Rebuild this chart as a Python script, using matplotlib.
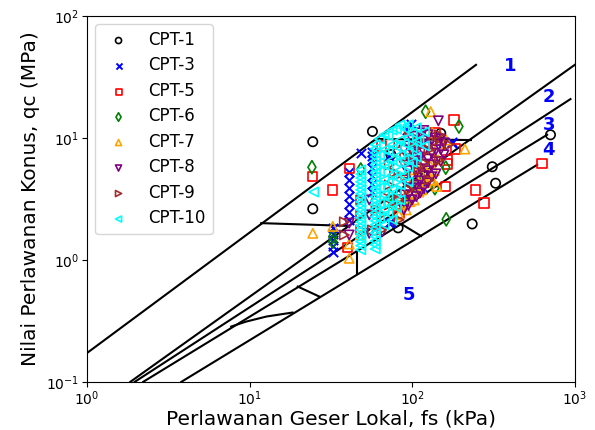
import matplotlib
matplotlib.use("Agg")
import matplotlib.pyplot as plt

# ---- CPT data: fs (kPa), qc (MPa) ----
cpt1_fs = [24.5, 24.5, 57, 74, 82, 150, 234, 311, 326, 709]
cpt1_qc = [9.3, 2.62, 11.3, 7.3, 1.83, 10.9, 1.97, 5.8, 4.25, 10.6]

cpt3_fs = [32.5, 32.5, 32.5, 32.5, 32.5,
           41, 41, 41, 41, 41, 41, 41,
           57, 57, 57, 57, 57, 57,
           48.3, 57, 72, 98, 93, 177, 153, 116, 72, 74, 103, 113, 177]
cpt3_qc = [1.83, 1.63, 1.46, 1.30, 1.16,
           5.27, 4.53, 3.89, 3.35, 2.88, 2.47, 2.13,
           7.68, 6.6, 5.68, 4.88, 4.20, 3.61,
           7.5, 7.05, 7.05, 13.0, 11.6, 9.0, 8.8, 3.87, 2.0, 2.06, 4.0, 3.87, 9.3]

cpt5_fs = [24.5, 32.5, 41, 40, 64.8, 85, 85, 83, 138, 181, 185, 165, 165, 161,
           245, 277, 630]
cpt5_qc = [4.82, 3.75, 5.64, 1.27, 8.6, 3.1, 2.75, 2.4, 11.1, 14.0, 8.1, 6.6, 6.1, 4.0,
           3.75, 2.92, 6.13]

cpt6_fs = [24.2, 48.3, 121, 194, 161, 138, 162, 32.5, 32.5, 74, 76, 90, 100, 110]
cpt6_qc = [5.75, 5.5, 16.4, 12.4, 5.7, 3.87, 2.15, 1.41, 1.55, 3.3, 2.9, 3.0, 3.5, 4.3]

cpt7_fs = [24.5, 32.5, 41, 130, 211,
           83, 83, 92, 92, 92, 103, 103, 103, 115, 115, 115,
           129, 129, 129, 145, 145, 162, 133, 133, 142,
           97, 110, 122, 137, 41, 48]
cpt7_qc = [1.65, 1.88, 1.03, 16.4, 8.1,
           2.82, 2.34, 4.70, 3.41, 2.57, 5.47, 4.12, 3.10, 6.6, 4.97, 3.75,
           7.97, 6.01, 4.53, 8.8, 6.6, 9.6, 11.0, 4.5, 4.0,
           3.0, 3.6, 4.3, 5.4, 1.35, 1.6]

cpt8_fs = [89, 89, 89, 89, 89,
           100, 100, 100, 100, 100, 100,
           112, 112, 112, 112, 112, 112,
           125, 125, 125, 125, 125,
           140, 140, 140, 140,
           157, 157, 54.5, 54.5, 54.5, 65.6, 145, 41, 41,
           95, 95, 95, 95, 95, 95,
           106, 106, 106, 106, 106, 106,
           118, 118, 118, 118, 118, 118,
           132, 132, 132, 132,
           150, 150, 150]
cpt8_qc = [7.97, 6.01, 4.53, 3.41, 2.57,
           9.6, 7.68, 6.12, 4.88, 3.89, 3.10,
           11.0, 8.8, 6.98, 5.57, 4.44, 3.54,
           10.6, 8.44, 6.73, 5.37, 4.28,
           10.0, 7.97, 6.36, 5.07,
           9.1, 7.26, 3.10, 2.34, 1.65, 1.70, 13.8, 2.0, 1.6,
           8.6, 6.8, 5.4, 4.3, 3.4, 2.8,
           10.3, 8.2, 6.5, 5.2, 4.1, 3.3,
           11.5, 9.5, 7.6, 6.1, 4.9, 3.9,
           9.5, 7.5, 6.0, 4.8,
           9.8, 8.0, 6.4]

cpt9_fs = [38.3, 38.3, 48.3, 48.3, 48.3, 57, 64.8, 64.8, 72.3, 72.3, 72.3,
           83, 83, 83, 83, 96, 96, 96, 110, 110, 127, 127, 147, 147, 169,
           60, 68, 78, 90, 104, 120, 136]
cpt9_qc = [2.05, 1.60, 3.10, 2.34, 1.76, 1.76, 1.76, 2.34, 2.82, 4.12, 6.01,
           8.8, 4.97, 3.10, 2.13, 11.6, 6.6, 3.75, 9.6, 5.47, 7.97, 4.53, 10.6, 6.6, 8.8,
           2.6, 3.3, 5.2, 7.0, 8.2, 6.2, 9.2]

cpt10_fs = [48.3] * 21 + [59.3] * 27 + [63] * 6 + [67.3] * 7 + [71] * 6 \
    + [75.4] * 7 + [80] * 6 + [84.4] * 6 + [89] * 4 + [94.5] * 5 + [100] * 3 \
    + [106] * 3 + [119] * 2 + [24.8, 110]
cpt10_qc = [5.47, 5.05, 4.70, 4.36, 4.04, 3.75, 3.48, 3.22, 2.99, 2.77, 2.57,
            2.39, 2.21, 2.05, 1.90, 1.76, 1.63, 1.52, 1.41, 1.31, 1.21,
            8.8, 8.15, 7.53, 7.0, 6.48, 6.0, 5.57, 5.17, 4.79, 4.45, 4.12, 3.82,
            3.54, 3.29, 3.05, 2.83, 2.62, 2.43, 2.25, 2.09, 1.94, 1.80, 1.66, 1.55,
            1.43, 1.33, 1.23,
            9.8, 7.2, 5.3, 3.9, 2.9, 2.2,
            10.6, 7.97, 6.01, 4.53, 3.41, 2.57, 1.94,
            10.5, 7.8, 5.8, 4.3, 3.2, 2.4,
            11.6, 8.8, 6.6, 4.97, 3.75, 2.82, 2.13,
            11.8, 8.5, 6.3, 4.7, 3.6, 2.7,
            12.8, 9.6, 7.26, 5.47, 4.12, 3.10,
            12.0, 9.0, 6.6, 4.9,
            12.8, 10.0, 7.68, 5.78, 4.36,
            11.0, 8.3, 6.3,
            12.1, 9.27, 6.98,
            11.2, 8.6,
            3.6, 9.6]

series = [
    ("CPT-1", cpt1_fs, cpt1_qc, "o", "black"),
    ("CPT-3", cpt3_fs, cpt3_qc, "x", "blue"),
    ("CPT-5", cpt5_fs, cpt5_qc, "s", "red"),
    ("CPT-6", cpt6_fs, cpt6_qc, "d", "green"),
    ("CPT-7", cpt7_fs, cpt7_qc, "^", "orange"),
    ("CPT-8", cpt8_fs, cpt8_qc, "v", "purple"),
    ("CPT-9", cpt9_fs, cpt9_qc, ">", "brown"),
    ("CPT-10", cpt10_fs, cpt10_qc, "<", "cyan"),
]

# ---- zone boundaries (fs, qc) ----
boundary_lines = [
    ([1, 247], [0.172, 39.7]),
    ([1.85, 1000], [0.1, 39.7]),
    ([1.97, 941], [0.1, 20.8]),
    ([2.22, 676], [0.1, 10.6]),
    ([3.81, 587], [0.1, 6.01]),
    ([60, 230], [9.8, 9.6]),
    ([11.8, 40], [2.0, 1.9]),
    ([46, 46], [1.21, 0.77]),
    ([85.6, 113.5], [1.97, 1.57]),
    ([19.8, 26.9], [0.604, 0.50]),
    ([7.72, 9.55, 12.7, 18.4], [0.284, 0.312, 0.343, 0.370]),
]

zone_names = ["1", "2", "3", "4", "5"]
zone_fs = [399, 692, 692, 692, 96]
zone_qc = [39.1, 21.6, 12.8, 7.97, 0.516]


def draw_chart():
    fig = plt.figure(figsize=(5.95, 4.30), dpi=100)
    ax = fig.add_axes([0.146, 0.112, 0.82, 0.851])

    for fs, qc in boundary_lines:
        ax.plot(fs, qc, color="black", linewidth=1.5, zorder=1)

    for name, fs, qc, marker, color in series:
        if marker == "x":
            ax.scatter(fs, qc, marker=marker, color=color, s=45, linewidths=1.4,
                       label=name, zorder=2)
        else:
            ax.scatter(fs, qc, marker=marker, facecolors="none", edgecolors=color,
                       s=45, linewidths=1.2, label=name, zorder=2)

    for name, fs, qc in zip(zone_names, zone_fs, zone_qc):
        ax.text(fs, qc, name, color="blue", fontsize=13, fontweight="bold",
                ha="center", va="center")

    ax.set_xscale("log")
    ax.set_yscale("log")
    ax.set_xlim(1, 1000)
    ax.set_ylim(0.1, 100)
    ax.minorticks_off()
    ax.tick_params(labelsize=10, pad=2)
    ax.set_xlabel("Perlawanan Geser Lokal, fs (kPa)", fontsize=14.5, labelpad=1)
    ax.set_ylabel("Nilai Perlawanan Konus, qc (MPa)", fontsize=14.5)
    ax.legend(loc="upper left", fontsize=12, markerscale=0.65, labelspacing=0.45)

    fig.savefig("out.png", dpi=100)
    plt.close(fig)


if __name__ == "__main__":
    draw_chart()
